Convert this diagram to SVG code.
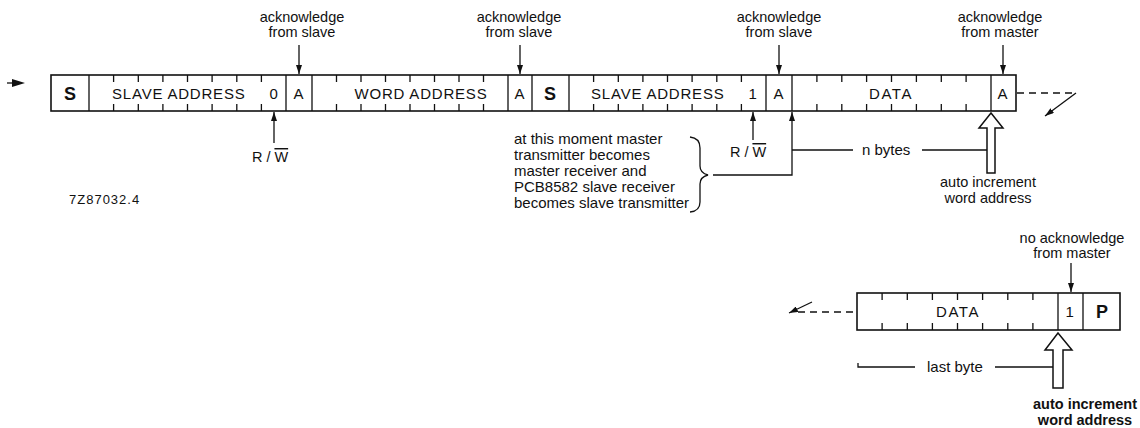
<svg xmlns="http://www.w3.org/2000/svg" width="1140" height="428" viewBox="0 0 1140 428">
<defs>
<style>
.t{font-family:"Liberation Sans",Arial,sans-serif;font-size:14.5px;fill:#111}
.m{text-anchor:middle}
.c{font-size:15px;letter-spacing:0.8px}
.b{font-weight:bold;font-size:18px}
.box{fill:none;stroke:#111;stroke-width:1.6}
.tk{stroke:#111;stroke-width:1.3}
.ln{fill:none;stroke:#111;stroke-width:1.3}
.dash{fill:none;stroke:#111;stroke-width:1.5;stroke-dasharray:7 5}
.hol{fill:#fff;stroke:#111;stroke-width:1.5}
</style>
<marker id="ah" viewBox="0 0 10 10" refX="10" refY="5" markerWidth="9" markerHeight="6" markerUnits="userSpaceOnUse" orient="auto" preserveAspectRatio="none">
<path d="M0,0 L10,5 L0,10 z" fill="#111"/>
</marker>
</defs>
<rect width="1140" height="428" fill="#fff"/>

<g id="frame-top">
<rect class="box" x="51" y="75" width="965" height="36"/>
<path class="tk" d="M89,75V111M286,75V111M312,75V111M508,75V111M532,75V111M569,75V111M766,75V111M792,75V111M991,75V111"/>
<path class="tk" d="M113.6,75v7M138.3,75v7M162.9,75v7M187.5,75v7M212.1,75v7M236.8,75v7M261.4,75v7M113.6,111v-7M138.3,111v-7M162.9,111v-7M187.5,111v-7M212.1,111v-7M236.8,111v-7M261.4,111v-7"/>
<path class="tk" d="M336.5,75v7M361,75v7M385.5,75v7M410,75v7M434.5,75v7M459,75v7M483.5,75v7M336.5,111v-7M361,111v-7M385.5,111v-7M410,111v-7M434.5,111v-7M459,111v-7M483.5,111v-7"/>
<path class="tk" d="M593.6,75v7M618.3,75v7M642.9,75v7M667.5,75v7M692.1,75v7M716.8,75v7M741.4,75v7M593.6,111v-7M618.3,111v-7M642.9,111v-7M667.5,111v-7M692.1,111v-7M716.8,111v-7M741.4,111v-7"/>
<path class="tk" d="M816.9,75v7M841.8,75v7M866.6,75v7M891.5,75v7M916.4,75v7M941.3,75v7M966.1,75v7M816.9,111v-7M841.8,111v-7M866.6,111v-7M891.5,111v-7M916.4,111v-7M941.3,111v-7M966.1,111v-7"/>
</g>
<g id="f-s1"><text class="t m b" x="70" y="100">S</text></g>
<g id="f-sa1"><text class="t c" x="112" y="99">SLAVE ADDRESS</text><text class="t m c" x="274" y="99">0</text></g>
<g id="f-a1"><text class="t m c" x="299" y="99">A</text></g>
<g id="f-wa"><text class="t m c" x="421" y="99">WORD ADDRESS</text></g>
<g id="f-a2"><text class="t m c" x="520" y="99">A</text></g>
<g id="f-s2"><text class="t m b" x="550" y="100">S</text></g>
<g id="f-sa2"><text class="t c" x="591" y="99">SLAVE ADDRESS</text><text class="t m c" x="753" y="99">1</text></g>
<g id="f-a3"><text class="t m c" x="779" y="99">A</text></g>
<g id="f-data1"><text class="t m c" x="891" y="99" style="letter-spacing:1.5px">DATA</text></g>
<g id="f-a4"><text class="t m c" x="1003" y="99">A</text></g>

<g id="frame-bottom">
<rect class="box" x="857" y="293" width="263" height="37"/>
<path class="tk" d="M1058,293V330M1083,293V330"/>
<path class="tk" d="M882.1,293v7M907.3,293v7M932.4,293v7M957.5,293v7M982.6,293v7M1007.8,293v7M1032.9,293v7M882.1,330v-7M907.3,330v-7M932.4,330v-7M957.5,330v-7M982.6,330v-7M1007.8,330v-7M1032.9,330v-7"/>
</g>
<g id="f-data2"><text class="t m c" x="958" y="317" style="letter-spacing:1.5px">DATA</text></g>
<g id="f-one"><text class="t m c" x="1070" y="317">1</text></g>
<g id="f-p"><text class="t m b" x="1102" y="318">P</text></g>

<g id="labels">
<text class="t m" x="302" y="22">acknowledge</text><text class="t m" x="302" y="37">from slave</text>
<text class="t m" x="519" y="22">acknowledge</text><text class="t m" x="519" y="37">from slave</text>
<text class="t m" x="779" y="22">acknowledge</text><text class="t m" x="779" y="37">from slave</text>
<text class="t m" x="1000" y="22">acknowledge</text><text class="t m" x="1000" y="37">from master</text>
<text class="t m" x="270" y="162">R / <tspan style="text-decoration:overline">W</tspan></text>
<text class="t m" x="748" y="157">R / <tspan style="text-decoration:overline">W</tspan></text>
<text class="t" x="69" y="204" style="font-size:13px;letter-spacing:1px">7Z87032.4</text>
<text class="t" x="514" y="144" style="font-size:15px">at this moment master</text>
<text class="t" x="514" y="160" style="font-size:15px">transmitter becomes</text>
<text class="t" x="514" y="176" style="font-size:15px">master receiver and</text>
<text class="t" x="514" y="192" style="font-size:15px">PCB8582 slave receiver</text>
<text class="t" x="514" y="208" style="font-size:15px">becomes slave transmitter</text>
<text class="t" x="862" y="155" style="font-size:15px">n bytes</text>
<text class="t m" x="988" y="187">auto increment</text><text class="t m" x="988" y="203">word address</text>
<text class="t m" x="1072" y="243">no acknowledge</text><text class="t m" x="1072" y="258">from master</text>
<text class="t" x="927" y="372" style="font-size:15px">last byte</text>
<text class="t m" x="1085" y="409" style="font-weight:bold">auto increment</text><text class="t m" x="1085" y="425" style="font-weight:bold">word address</text>
</g>

<g id="connectors">
<path class="ln" d="M7,83H16" stroke-width="3"/>
<path d="M12,79 L25,83 L12,87 z" fill="#111"/>
<path class="ln" d="M299,45V74" marker-end="url(#ah)"/>
<path class="ln" d="M520,45V74" marker-end="url(#ah)"/>
<path class="ln" d="M779,45V74" marker-end="url(#ah)"/>
<path class="ln" d="M1003,45V74" marker-end="url(#ah)"/>
<path class="ln" d="M274,143V112" marker-end="url(#ah)"/>
<path class="ln" d="M753,140V112" marker-end="url(#ah)"/>
<path class="dash" d="M1017,93H1076"/>
<path class="ln" d="M1076,93L1045,116" stroke-width="1.5" marker-end="url(#ah)"/>
<path class="ln" d="M690,137Q700,138 700,148V166Q700,173 708,175Q700,177 700,184V202Q700,211 690,212"/>
<path class="ln" d="M713,175H792V112" marker-end="url(#ah)"/>
<path class="ln" d="M792,150H853M922,150H987"/>
<path class="hol" d="M991,113L1003,128H995V173H987V128H979Z"/>
<path class="ln" d="M1071,263V292" marker-end="url(#ah)"/>
<path class="dash" d="M853,312H796"/>
<path class="ln" d="M812,302L789,313" stroke-width="1.5" marker-end="url(#ah)"/>
<path class="hol" d="M1058,333L1072,350H1063V388H1053V350H1045Z"/>
<path class="ln" d="M858,363V367H915M995,367H1053"/>
</g>
</svg>
